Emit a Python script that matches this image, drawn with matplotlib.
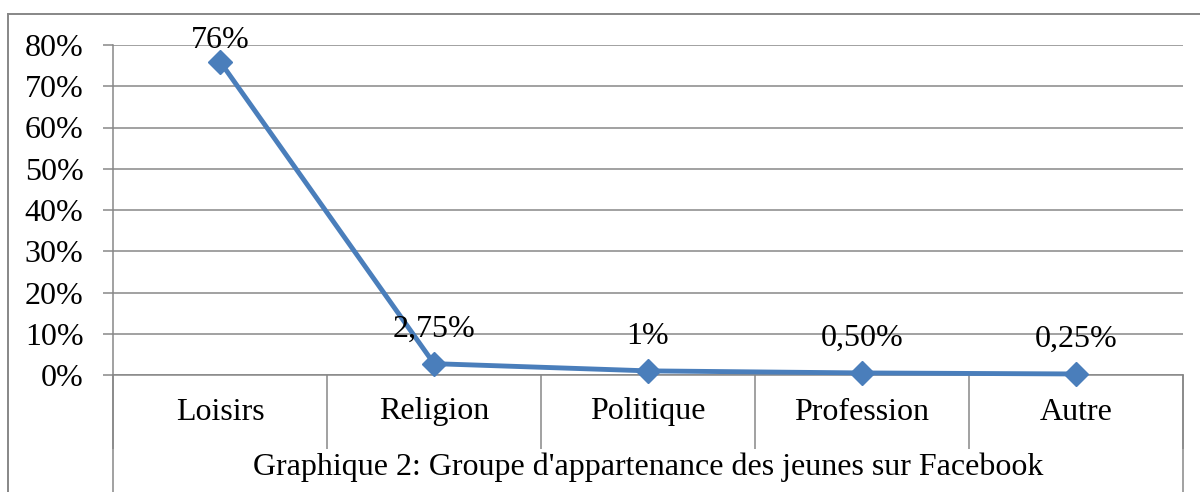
import numpy as np
import matplotlib
matplotlib.use('Agg')
import matplotlib.pyplot as plt
from matplotlib.lines import Line2D

categories = ['Loisirs', 'Religion', 'Politique', 'Profession', 'Autre']
values = [76, 2.75, 1, 0.5, 0.25]
value_labels = ['76%', '2,75%', '1%', '0,50%', '0,25%']
yticks = [0, 10, 20, 30, 40, 50, 60, 70, 80]
title = "Graphique 2: Groupe d'appartenance des jeunes sur Facebook"

plt.rcParams['font.family'] = ['Liberation Serif', 'DejaVu Serif']
fs = 23
grid_color = '#878787'
line_color = '#4A7EBB'

W, H = 1200, 492
fig = plt.figure(figsize=(W / 100, H / 100), dpi=100)
left, right, top, bottom = 113, 1183, 45, 375
ax = fig.add_axes([left / W, 1 - bottom / H, (right - left) / W, (bottom - top) / H])

x = np.arange(len(categories))
ax.set_xlim(-0.5, len(categories) - 0.5)
ax.set_ylim(0, 80)

# grid and axes
ax.set_yticks(yticks)
ax.set_yticklabels([f'{t}%' for t in yticks], fontsize=fs)
ax.yaxis.grid(True, color=grid_color, linewidth=1.1)
ax.tick_params(axis='y', length=7.2, width=1.1, color=grid_color, pad=14)
ax.set_xticks([])
ax.set_xticks(np.arange(len(categories) + 1) - 0.5, minor=True)
ax.tick_params(axis='x', which='minor', length=53, width=1.1, color=grid_color, labelbottom=False)
for s in ['top', 'right']:
    ax.spines[s].set_visible(False)
ax.spines['left'].set_color(grid_color)
ax.spines['left'].set_linewidth(1.1)
ax.spines['bottom'].set_color(grid_color)
ax.spines['bottom'].set_linewidth(1.1)
ax.set_axisbelow(True)

# outer edges of the category table
ext = -(H - bottom) / (bottom - top)
for xa in [0, 1]:
    ax.plot([xa, xa], [0, ext], transform=ax.transAxes, color=grid_color,
            linewidth=1.1, clip_on=False)

# line series
ax.plot(x, values, color=line_color, linewidth=3.5, marker='D', markersize=12,
        clip_on=False, zorder=5)

# data labels
px_per_unit = (bottom - top) / 80
label_y = np.minimum(np.array(values) + 27 / px_per_unit, (bottom - 48) / px_per_unit)
for xi, yi, lab in zip(x, label_y, value_labels):
    ax.text(xi, yi, lab, ha='center', va='baseline', fontsize=fs, zorder=6)

# category labels and title
cat_y = (bottom - 412) / (bottom - top)
for xi, c in zip(x, categories):
    ax.text(xi, cat_y, c, ha='center', va='center', fontsize=fs,
            transform=ax.get_xaxis_transform())
ax.text(0.5, (bottom - 467) / (bottom - top), title, ha='center', va='center',
        fontsize=fs, transform=ax.transAxes)

# chart border
fig.add_artist(Line2D([8 / W, 8 / W], [0, 1 - 14 / H], color=grid_color, linewidth=1.4))
fig.add_artist(Line2D([8 / W, 1], [1 - 14 / H, 1 - 14 / H], color=grid_color, linewidth=1.4))

fig.savefig('out.png', dpi=100)
